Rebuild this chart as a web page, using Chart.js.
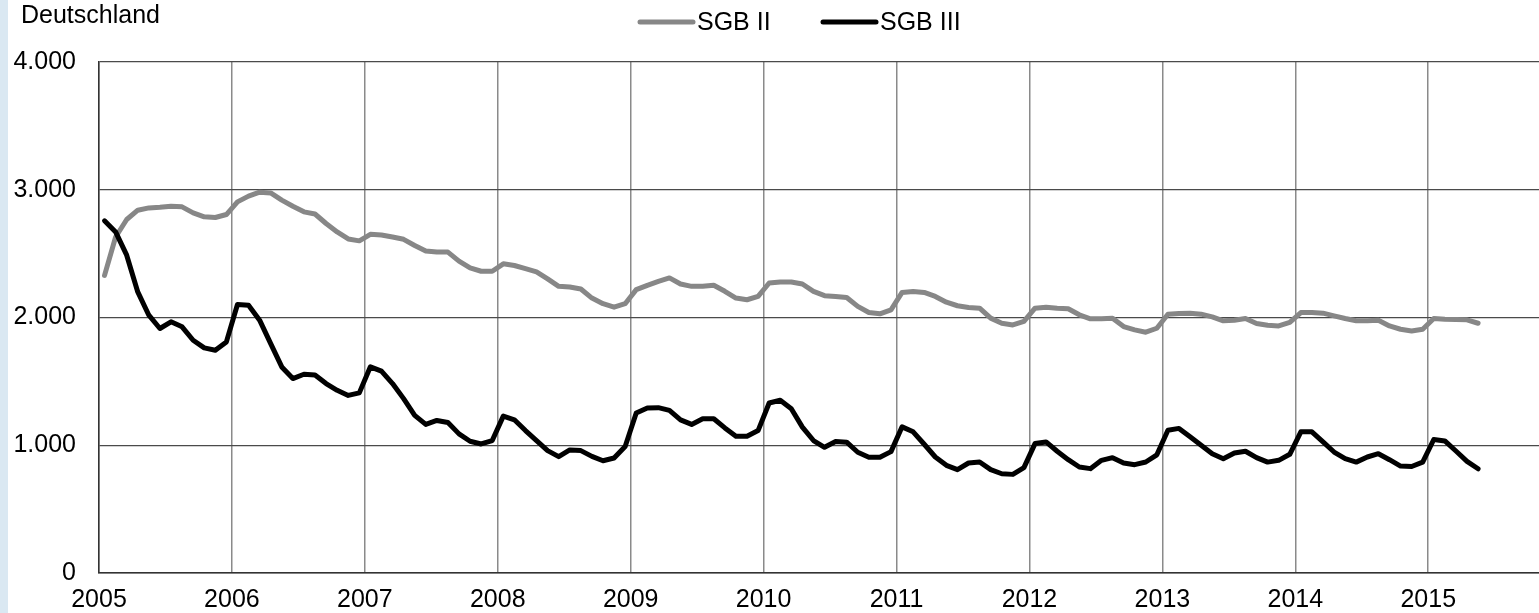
<!DOCTYPE html>
<html lang="de">
<head>
<meta charset="utf-8">
<title>SGB II / SGB III – Deutschland</title>
<script src="https://cdn.jsdelivr.net/npm/chart.js@4"></script>
<style>
  html, body { margin: 0; padding: 0; background: #fff; }
  #wrap {
    position: relative; width: 1539px; height: 613px;
    background: linear-gradient(to right, #dae8f2 0, #dae8f2 8px, #fff 8px);
  }
</style>
</head>
<body>
<div id="wrap"><canvas id="chart"></canvas></div>
<script>
"use strict";

/* ---------- data (monthly, Jan 2005 – May 2015, in thousands) ---------- */
const startYear = 2005;
const yearLabels = ["2005", "2006", "2007", "2008", "2009", "2010",
  "2011", "2012", "2013", "2014", "2015"];
const yTicks = [0, 1000, 2000, 3000, 4000];
const seriesNames = ["SGB II", "SGB III"];

const sgb2 = [
  2330, 2630, 2767, 2840, 2858, 2863, 2871, 2866, 2819, 2788, 2783, 2806,
  2905, 2950, 2981, 2975, 2919, 2871, 2827, 2810, 2736, 2670, 2615, 2600,
  2651, 2646, 2630, 2612, 2564, 2520, 2512, 2512, 2441, 2388, 2362, 2362,
  2420, 2407, 2383, 2357, 2302, 2244, 2239, 2223, 2152, 2108, 2081, 2108,
  2218, 2252, 2283, 2310, 2262, 2244, 2244, 2252, 2205, 2152, 2139, 2165,
  2270, 2278, 2278, 2262, 2205, 2171, 2165, 2157, 2087, 2039, 2029, 2060,
  2196, 2204, 2196, 2165, 2120, 2092, 2079, 2073, 1995, 1955, 1942, 1969,
  2073, 2081, 2073, 2068, 2021, 1990, 1990, 1995, 1929, 1903, 1885, 1916,
  2026, 2032, 2034, 2026, 2005, 1974, 1979, 1992, 1953, 1939, 1934, 1961,
  2039, 2039, 2034, 2013, 1992, 1974, 1974, 1979, 1934, 1908, 1895, 1908,
  1992, 1987, 1984, 1982, 1955,
];

const sgb3 = [
  2757, 2670, 2488, 2200, 2018, 1914, 1966, 1927, 1822, 1762, 1744, 1809,
  2102, 2095, 1979, 1796, 1613, 1522, 1556, 1550, 1483, 1430, 1390, 1410,
  1614, 1580, 1483, 1365, 1234, 1163, 1194, 1178, 1089, 1031, 1010, 1037,
  1228, 1199, 1115, 1037, 958, 911, 963, 958, 913, 879, 900, 990,
  1252, 1291, 1294, 1273, 1199, 1163, 1207, 1207, 1136, 1071, 1071, 1115,
  1331, 1352, 1286, 1142, 1037, 984, 1029, 1024, 945, 906, 906, 950,
  1144, 1105, 1008, 908, 843, 809, 861, 869, 809, 777, 772, 825,
  1013, 1026, 953, 887, 830, 817, 882, 903, 861, 848, 869, 925,
  1118, 1132, 1066, 1000, 934, 895, 939, 953, 903, 868, 882, 929,
  1105, 1105, 1026, 947, 895, 868, 908, 934, 887, 837, 834, 868,
  1045, 1034, 955, 874, 816,
];

/* ---------- helpers ---------- */
const FONT = "'Liberation Sans', Arial, sans-serif";
const COLORS = ["#878787", "#000000"];
const WIDTHS = [5, 5];

// month index -> position in months since Jan 2005 (points sit mid-month)
function toPoints(values) {
  return values.map((v, i) => ({ x: i + 0.5, y: v }));
}
function fmtThousands(v) {
  return String(v).replace(/\B(?=(\d{3})+(?!\d))/g, ".");
}

/* ---------- header: title + legend ---------- */
const headerPlugin = {
  id: "header",
  afterDraw(chart) {
    const ctx = chart.ctx;
    ctx.save();
    ctx.fillStyle = "#000";
    ctx.font = "25px " + FONT;
    ctx.textBaseline = "alphabetic";
    ctx.textAlign = "left";
    ctx.fillText("Deutschland", 21, 23);

    const items = [
      { x: 640, name: seriesNames[0], color: COLORS[0], w: WIDTHS[0] },
      { x: 823, name: seriesNames[1], color: COLORS[1], w: WIDTHS[1] },
    ];
    ctx.textBaseline = "middle";
    items.forEach((it) => {
      ctx.strokeStyle = it.color;
      ctx.lineWidth = it.w;
      ctx.lineCap = "round";
      ctx.beginPath();
      ctx.moveTo(it.x, 22);
      ctx.lineTo(it.x + 53, 22);
      ctx.stroke();
      ctx.fillText(it.name, it.x + 57, 23);
    });
    ctx.restore();
  },
};

/* ---------- chart ---------- */
new Chart(document.getElementById("chart"), {
  type: "line",
  data: {
    datasets: [
      {
        label: seriesNames[0], data: toPoints(sgb2),
        borderColor: COLORS[0], borderWidth: WIDTHS[0], order: 1,
      },
      {
        label: seriesNames[1], data: toPoints(sgb3),
        borderColor: COLORS[1], borderWidth: WIDTHS[1], order: 0,
      },
    ],
  },
  options: {
    responsive: true,
    maintainAspectRatio: false,
    animation: false,
    events: [],
    layout: { padding: { top: 62, left: 0, right: 0, bottom: 0 } },
    elements: {
      point: { radius: 0 },
      line: { tension: 0, borderJoinStyle: "round", borderCapStyle: "round", fill: false },
    },
    plugins: { legend: { display: false }, tooltip: { enabled: false } },
    scales: {
      x: {
        type: "linear",
        min: 0,
        max: 130,
        afterBuildTicks: (scale) => {
          scale.ticks = yearLabels.map((_, i) => ({ value: i * 12 }));
        },
        afterFit: (scale) => { scale.height = 40; },
        ticks: {
          autoSkip: false, maxRotation: 0, padding: 12,
          color: "#000", font: { family: FONT, size: 25 },
          callback: (v) => yearLabels[Math.round(v / 12)],
        },
        grid: { color: "#8a8a8a", lineWidth: 1.5, drawTicks: false },
        border: { color: "#333", width: 1.5 },
      },
      y: {
        min: 0,
        max: 4000,
        afterBuildTicks: (scale) => {
          scale.ticks = yTicks.map((v) => ({ value: v }));
        },
        afterFit: (scale) => { scale.width = 99; },
        ticks: {
          padding: 23, color: "#000", font: { family: FONT, size: 25 },
          callback: (v) => fmtThousands(v),
        },
        grid: { color: "#4a4a4a", lineWidth: 1.2, drawTicks: false },
        border: { color: "#333", width: 1.5 },
      },
    },
  },
  plugins: [headerPlugin],
});
</script>
</body>
</html>
